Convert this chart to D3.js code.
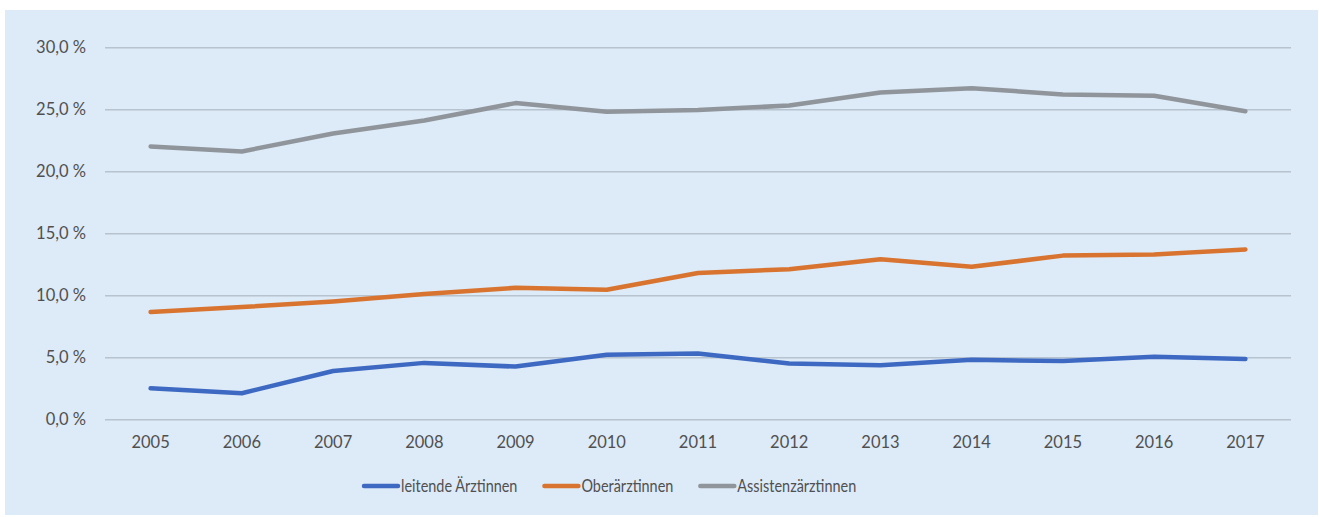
<!DOCTYPE html>
<html><head><meta charset="utf-8">
<script src="https://cdn.jsdelivr.net/npm/d3@7"></script>
<style>body{margin:0;background:#fff}svg{display:block}</style>
</head><body>
<svg id="c" width="1319" height="517"></svg>
<script>
const years = ["2005","2006","2007","2008","2009","2010","2011","2012","2013","2014","2015","2016","2017"];
const leitende = [2.5,2.1,3.9,4.55,4.25,5.2,5.3,4.5,4.35,4.8,4.7,5.05,4.87];
const oberaerztinnen = [8.65,9.05,9.5,10.1,10.6,10.45,11.8,12.1,12.9,12.3,13.2,13.3,13.7];
const assistenz = [22.0,21.6,23.05,24.1,25.5,24.8,24.95,25.3,26.35,26.7,26.2,26.1,24.85];
const yTicks = [0,5,10,15,20,25,30];
const seriesNames = ["leitende Ärztinnen","Oberärztinnen","Assistenzärztinnen"];
const seriesColors = ["#3d69c2","#d8742f","#8f959b"];

const svg = d3.select("#c");
const font = "Lato, 'Open Sans', sans-serif";
svg.append("rect").attr("x",5).attr("y",10).attr("width",1313).attr("height",505).attr("fill","#ddeaf7");

const x = d3.scaleBand().domain(years).range([105,1291]);
const y = d3.scaleLinear().domain([0,30]).range([419.3,47.3]);

const fmt = v => d3.format(".1f")(v).replace(".",",") + " %";
const yAxis = d3.axisLeft(y).tickValues(yTicks).tickSize(-(1291-105)).tickFormat(fmt).tickPadding(19);
const gy = svg.append("g").attr("transform","translate(105,0)").call(yAxis);
gy.select(".domain").remove();
gy.selectAll(".tick line").attr("stroke","#b7c3cf").attr("stroke-width",1.6);
gy.selectAll(".tick text").attr("fill","#505050").style("font-family",font).style("font-size","16.5px");

const xAxis = d3.axisBottom(x).tickSize(0).tickPadding(17);
const gx = svg.append("g").attr("transform","translate(0,419.3)").call(xAxis);
gx.select(".domain").remove();
gx.selectAll(".tick text").attr("fill","#505050").style("font-family",font).style("font-size","16.5px");

const data = [leitende, oberaerztinnen, assistenz];
const line = d3.line().x((d,i)=>x(years[i])+x.bandwidth()/2).y(d=>y(d));
data.forEach((s,k)=>{
  svg.append("path").datum(s).attr("d",line).attr("fill","none")
    .attr("stroke",seriesColors[k]).attr("stroke-width",4.5)
    .attr("stroke-linejoin","round").attr("stroke-linecap","round");
});

// legend (text compressed horizontally to mimic a narrow Calibri-like face)
const sx = 0.875;
const lg = svg.append("g").attr("transform","translate(0,486)");
let lx = 364;
seriesNames.forEach((n,k)=>{
  lg.append("line").attr("x1",lx).attr("x2",lx+34).attr("y1",0).attr("y2",0)
    .attr("stroke",seriesColors[k]).attr("stroke-width",4.5).attr("stroke-linecap","round");
  const tg = lg.append("g").attr("transform",`translate(${lx+37},0) scale(${sx},1)`);
  const t = tg.append("text").attr("x",0).attr("y",0).attr("dy","0.35em")
    .attr("fill","#505050").style("font-family",font).style("font-size","16.5px").text(n);
  const w = t.node().getComputedTextLength()*sx;
  lx = lx + 37 + w + 27;
});
</script>
</body></html>
